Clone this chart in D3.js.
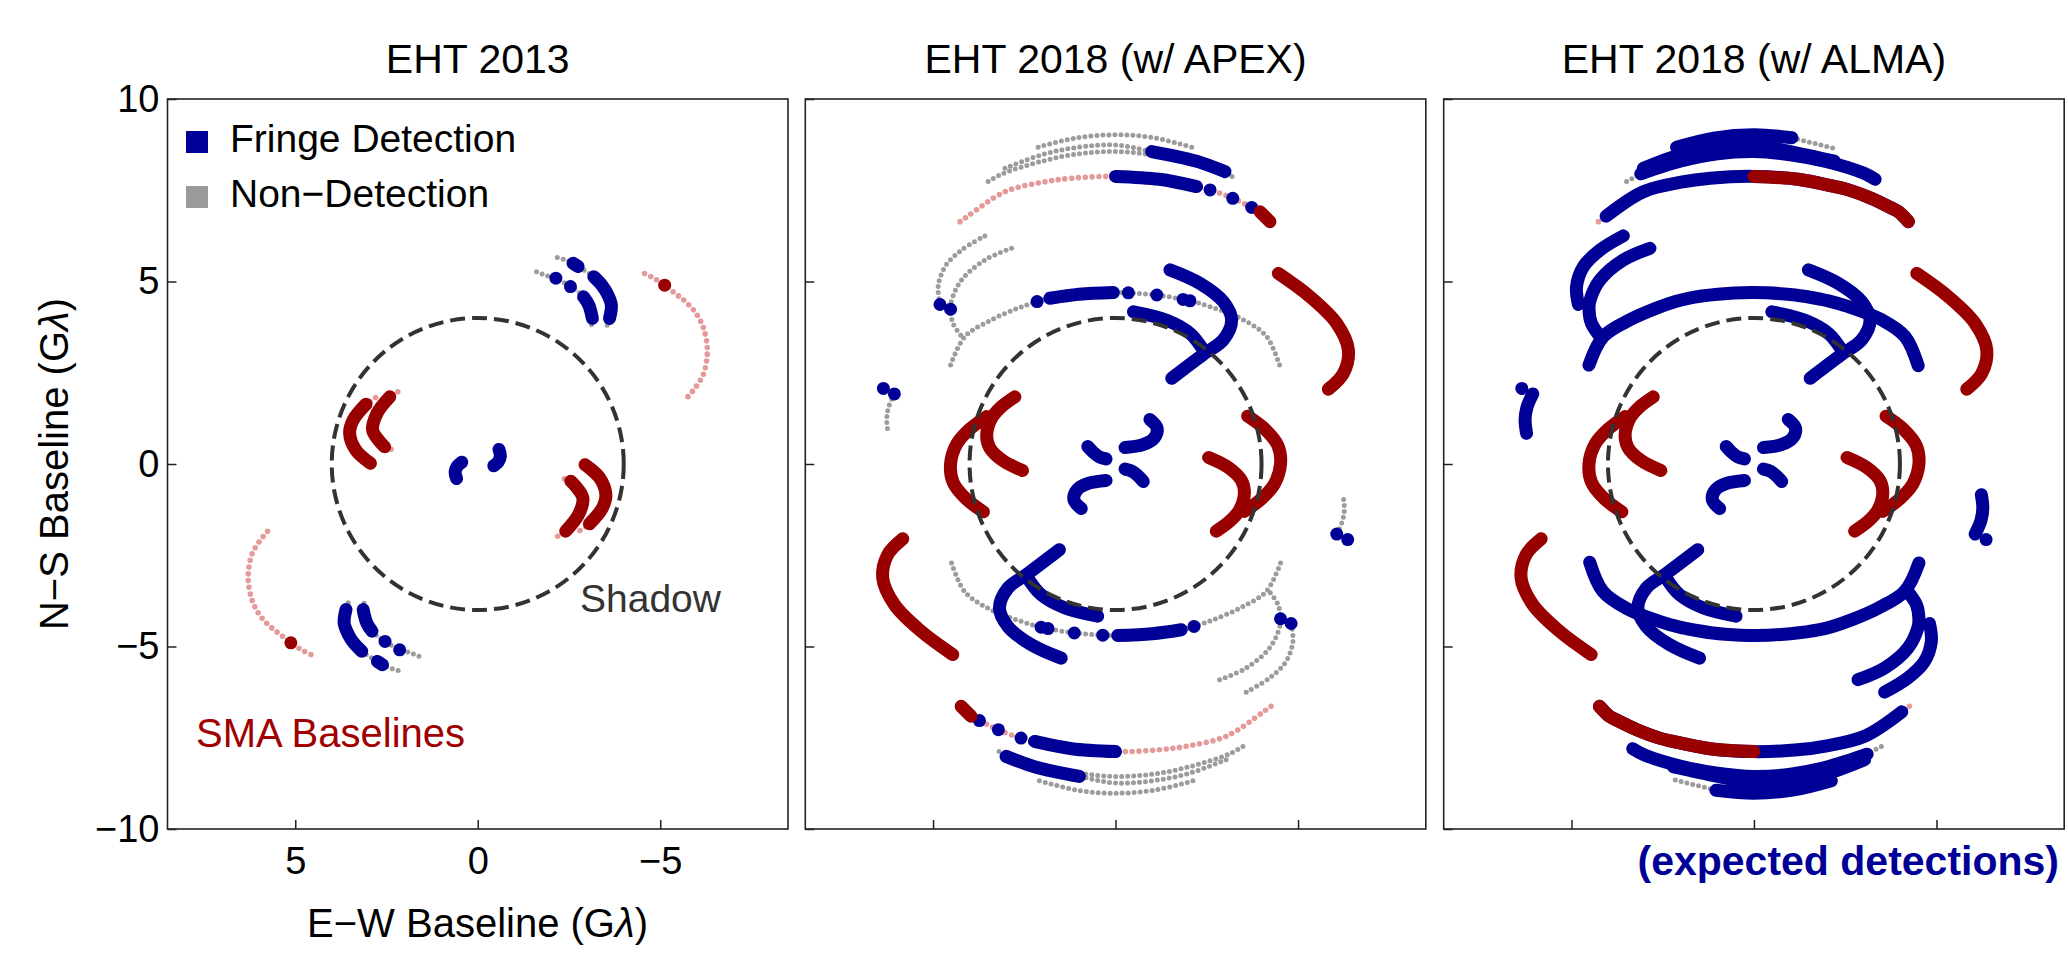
<!DOCTYPE html>
<html>
<head>
<meta charset="utf-8">
<script src="https://cdn.jsdelivr.net/npm/d3@7"></script>
<style>
  body { margin: 0; background: #fff; }
  svg { display: block; font-family: "Liberation Sans", Arial, Helvetica, sans-serif; }
</style>
</head>
<body>
<div id="chart"></div>
<script>
// uv tracks in G-lambda as [u, v], u grows to the left (east).
// only one half of every conjugate pair is listed, the (-u,-v) half is drawn too

// ---- EHT 2013 ----
const arc13Outer = [[-2.18,5.66],[-2.40,5.59],[-2.61,5.50],[-2.75,5.41],[-2.97,5.27],[-3.18,5.13],
  [-3.40,4.90],[-3.54,4.68],[-3.66,4.36],[-3.61,3.99],[-3.51,3.71]];
const arc13Inner = [[-1.61,5.27],[-1.82,5.18],[-2.14,5.09],[-2.54,4.86],[-2.75,4.72],[-2.90,4.58],
  [-3.04,4.36],[-3.14,3.99],[-3.08,3.69]];
const sma13Long = [[-4.57,5.22],[-4.83,5.09],[-5.12,4.90],[-5.40,4.68],[-5.69,4.45],[-5.98,4.13],
  [-6.19,3.71],[-6.29,3.12],[-6.19,2.48],[-5.98,2.12],[-5.72,1.80]];
const sma13Outer = [[2.80,1.82],[3.06,1.64],[3.41,1.21],[3.51,0.84],[3.34,0.38],[2.94,0.02]];
const sma13Inner = [[2.19,1.98],[2.41,1.84],[2.76,1.39],[2.88,0.93],[2.69,0.62],[2.55,0.47],[2.36,0.40]];
const short13 = [[0.44,0.05],[0.56,-0.06],[0.62,-0.22],[0.58,-0.40]];

// ---- EHT 2018 ----
const rowA = [[2.12,8.68],[1.1,8.93],[0,9.02],[-1.04,8.94],[-2.18,8.65]];
const rowB = [[3.03,8.10],[2.0,8.48],[1.0,8.68],[0,8.74],[-0.99,8.56],[-2.2,8.30],[-3.0,8.01]];
const rowC = [[3.49,7.74],[3.1,7.95],[2.0,8.30],[1.0,8.50],[0,8.56],[-1.0,8.47],[-2.0,8.28],
  [-3.0,7.97],[-3.32,7.80]];
const rowD = [[4.26,6.64],[4.05,6.79],[3.03,7.46],[2.0,7.72],[1.2,7.83],[0,7.88],[-1.2,7.80],
  [-2.22,7.60],[-2.59,7.51],[-3.21,7.28],[-3.73,7.03],[-3.96,6.91],[-4.23,6.64]];
const hookL1 = [[3.58,6.25],[4.22,5.86],[4.67,5.41],[4.86,4.86],[4.81,4.37]];
const hookL2 = [[2.85,5.91],[3.58,5.59],[4.22,5.04],[4.49,4.49],[4.52,4.24],[4.45,3.85],[4.17,3.44]];
const bigArc = [[4.52,2.71],[4.13,3.49],[3.4,3.95],[2.67,4.27],[2.15,4.45],[1.8,4.54],[1.0,4.65],
  [0.06,4.70],[-0.35,4.69],[-1.13,4.63],[-1.85,4.51],[-2.04,4.47],[-2.59,4.31],[-3.5,3.95],
  [-4.14,3.49],[-4.5,2.69]];
const farDot = [[6.36,2.07]];
const farArc = [[6.06,1.92],[6.22,1.55],[6.27,1.21],[6.23,0.84]];
const smaOuter = [[3.53,1.30],[4.0,0.95],[4.35,0.55],[4.52,0.0],[4.45,-0.5],[4.1,-0.95],[3.62,-1.31]];
const smaInner = [[2.76,1.84],[3.15,1.55],[3.4,1.25],[3.53,0.8],[3.45,0.45],[3.1,0.1],[2.55,-0.18]];
const smaRight = [[-4.46,5.22],[-5.33,4.58],[-6.06,3.85],[-6.38,3.12],[-6.24,2.48],[-5.83,2.05]];
const centerA = [[0.76,0.48],[0.62,0.33],[0.45,0.2],[0.26,0.14]];
const centerB = [[-0.94,1.22],[-1.14,0.98],[-1.05,0.70],[-0.75,0.53],[-0.26,0.45]];
const hookR1 = [[-1.49,5.32],[-2.31,4.95],[-2.95,4.45],[-3.18,3.95],[-2.95,3.40],[-2.40,3.00],[-1.54,2.35]];
const hookR2 = [[-0.49,4.17],[-1.4,3.94],[-2.04,3.58],[-2.42,3.10]];

// pieces: [track, first index, last index, kind]
// n = non-detection, p = SMA non-detection, d = detection, s = SMA detection
const pieces2013 = [
  [arc13Outer,0,10,"n"], [arc13Outer,2,3,"d"], [arc13Outer,5,9,"d"],
  [arc13Inner,0,8,"n"], [arc13Inner,2,2,"d"], [arc13Inner,3,3,"d"], [arc13Inner,5,7,"d"],
  [sma13Long,0,10,"p"], [sma13Long,2,2,"s"],
  [sma13Outer,0,1,"p"], [sma13Outer,1,5,"s"],
  [sma13Inner,0,1,"p"], [sma13Inner,5,6,"p"], [sma13Inner,1,5,"s"],
  [short13,0,3,"d"]
];

const piecesApex = [
  [rowA,0,4,"n"],
  [rowB,0,6,"n"], [rowB,4,6,"d"],
  [rowC,0,8,"n"],
  [rowD,0,12,"p"], [rowD,5,7,"d"], [rowD,8,8,"d"], [rowD,9,9,"d"], [rowD,10,10,"d"], [rowD,11,12,"s"],
  [hookL1,0,4,"n"], [hookL1,4,4,"d"],
  [hookL2,0,6,"n"], [hookL2,4,4,"d"],
  [bigArc,0,15,"n"], [bigArc,4,4,"d"], [bigArc,5,7,"d"], [bigArc,8,8,"d"], [bigArc,9,9,"d"],
  [bigArc,10,10,"d"], [bigArc,11,11,"d"],
  [farDot,0,0,"d"],
  [farArc,0,3,"n"], [farArc,0,0,"d"],
  [smaOuter,0,6,"s"], [smaInner,0,6,"s"], [smaRight,0,5,"s"],
  [centerA,0,3,"d"], [centerB,0,4,"d"],
  [hookR1,0,6,"d"], [hookR2,0,3,"d"]
];

const piecesAlma = [
  [rowA,3,4,"n"], [rowB,5,6,"n"], [rowC,0,1,"n"], [rowD,0,1,"p"],
  [rowA,0,3,"d"], [rowB,0,5,"d"], [rowC,1,8,"d"],
  [rowD,1,12,"d"], [rowD,5,12,"s"],
  [hookL1,0,4,"d"], [hookL2,0,6,"d"], [bigArc,0,15,"d"],
  [farDot,0,0,"d"], [farArc,0,3,"d"],
  [smaOuter,0,6,"s"], [smaInner,0,6,"s"], [smaRight,0,5,"s"],
  [centerA,0,3,"d"], [centerB,0,4,"d"],
  [hookR1,0,6,"d"], [hookR2,0,3,"d"]
];

const xTicks = [5, 0, -5];
const yTicks = [-10, -5, 0, 5, 10];
const shadowRadius = 4;

const svgWidth = 2068;
const svgHeight = 968;
const unit = 36.5;
const plotTop = 99;
const plotBottom = 829;

const kinds = {
  n: {color: "#9c9c9c", w: 5, gap: 6},
  p: {color: "#e59a9a", w: 5.6, gap: 6.8},
  d: {color: "#000096", w: 13},
  s: {color: "#990000", w: 13}
};

const panels = [
  {x0: 167.5, title: "EHT 2013", pieces: pieces2013, labels: true},
  {x0: 805.3, title: "EHT 2018 (w/ APEX)", pieces: piecesApex, labels: false},
  {x0: 1443.7, title: "EHT 2018 (w/ ALMA)", pieces: piecesAlma, labels: false}
];

const svg = d3.select("#chart")
  .append("svg")
  .attr("width", svgWidth)
  .attr("height", svgHeight);

const y = d3.scaleLinear().domain([-10, 10]).range([plotBottom, plotTop]);

panels.forEach(function(p) {
  const x = d3.scaleLinear().domain([8.5, -8.5]).range([p.x0, p.x0 + 17 * unit]);
  const g = svg.append("g");

  const line = d3.line()
    .x(d => x(d[0]))
    .y(d => y(d[1]))
    .curve(d3.curveCatmullRom.alpha(0.5));

  function drawPiece(pts, kind) {
    const st = kinds[kind];
    if (pts.length === 1) {
      g.append("circle")
        .attr("cx", x(pts[0][0]))
        .attr("cy", y(pts[0][1]))
        .attr("r", st.w / 2)
        .attr("fill", st.color);
      return;
    }
    const path = g.append("path")
      .attr("d", line(pts))
      .attr("fill", "none")
      .attr("stroke", st.color)
      .attr("stroke-width", st.w)
      .attr("stroke-linecap", "round")
      .attr("stroke-linejoin", "round");
    if (st.gap) path.attr("stroke-dasharray", "0," + st.gap);
  }

  // small dots first, then the detections on top
  const small = p.pieces.filter(d => d[3] === "n" || d[3] === "p");
  const big = p.pieces.filter(d => d[3] === "d" || d[3] === "s");
  small.concat(big).forEach(function(piece) {
    const pts = piece[0].slice(piece[1], piece[2] + 1);
    drawPiece(pts, piece[3]);
    drawPiece(pts.map(d => [-d[0], -d[1]]), piece[3]);
  });

  // shadow circle
  g.append("circle")
    .attr("cx", x(0))
    .attr("cy", y(0))
    .attr("r", x(0) - x(shadowRadius))
    .attr("fill", "none")
    .attr("stroke", "#333")
    .attr("stroke-width", 4)
    .attr("stroke-dasharray", "15,7");

  // frame
  g.append("rect")
    .attr("x", p.x0)
    .attr("y", plotTop)
    .attr("width", 17 * unit)
    .attr("height", plotBottom - plotTop)
    .attr("fill", "none")
    .attr("stroke", "#222")
    .attr("stroke-width", 1.6);

  const leftAxis = d3.axisLeft(y).tickValues(yTicks).tickSize(-9).tickSizeOuter(0).tickPadding(8);
  const bottomAxis = d3.axisBottom(x).tickValues(xTicks).tickSize(-9).tickSizeOuter(0).tickPadding(18);
  if (!p.labels) {
    leftAxis.tickFormat("");
    bottomAxis.tickFormat("");
  }

  const ya = g.append("g")
    .attr("transform", `translate(${p.x0}, 0)`)
    .call(leftAxis);
  const xa = g.append("g")
    .attr("transform", `translate(0, ${plotBottom})`)
    .call(bottomAxis);
  [ya, xa].forEach(function(a) {
    a.select(".domain").remove();
    a.attr("font-size", 38).attr("font-family", null).attr("color", "#222");
    a.selectAll("line").attr("stroke-width", 1.5);
    a.selectAll("text").attr("fill", "#000");
  });

  svg.append("text")
    .attr("x", x(0))
    .attr("y", 73)
    .attr("text-anchor", "middle")
    .attr("font-size", 41)
    .text(p.title);
});

// axis titles
const xTitle = svg.append("text")
  .attr("x", 477.5)
  .attr("y", 937)
  .attr("text-anchor", "middle")
  .attr("font-size", 40);
xTitle.append("tspan").text("E\u2212W Baseline (G");
xTitle.append("tspan").attr("font-style", "italic").text("\u03bb");
xTitle.append("tspan").text(")");

const yTitle = svg.append("text")
  .attr("transform", "translate(68, 464) rotate(-90)")
  .attr("text-anchor", "middle")
  .attr("font-size", 40);
yTitle.append("tspan").text("N\u2212S Baseline (G");
yTitle.append("tspan").attr("font-style", "italic").text("\u03bb");
yTitle.append("tspan").text(")");

// legend
const legendItems = [
  {label: "Fringe Detection", color: "#000096", y: 152},
  {label: "Non\u2212Detection", color: "#9a9a9a", y: 207}
];
legendItems.forEach(function(d) {
  svg.append("rect")
    .attr("x", 186)
    .attr("y", d.y - 21)
    .attr("width", 22)
    .attr("height", 22)
    .attr("fill", d.color);
  svg.append("text")
    .attr("x", 230)
    .attr("y", d.y)
    .attr("font-size", 39)
    .text(d.label);
});

svg.append("text")
  .attr("x", 580)
  .attr("y", 612)
  .attr("font-size", 39)
  .attr("fill", "#333")
  .text("Shadow");

svg.append("text")
  .attr("x", 196)
  .attr("y", 747)
  .attr("font-size", 40)
  .attr("fill", "#a00000")
  .text("SMA Baselines");

svg.append("text")
  .attr("x", 2059)
  .attr("y", 875)
  .attr("text-anchor", "end")
  .attr("font-size", 41)
  .attr("font-weight", "bold")
  .attr("fill", "#000096")
  .text("(expected detections)");
</script>
</body>
</html>
